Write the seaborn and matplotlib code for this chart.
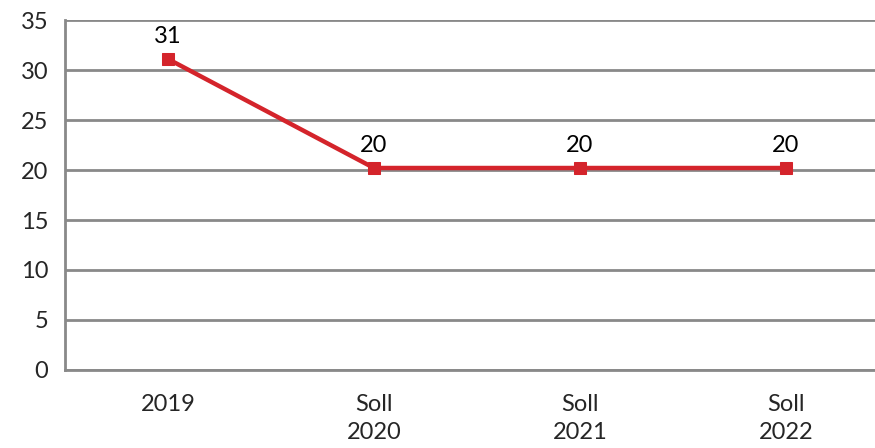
import seaborn as sns
import matplotlib.pyplot as plt
from matplotlib.ticker import MultipleLocator
import pandas as pd

# values
kategorien = ["2019", "Soll\n2020", "Soll\n2021", "Soll\n2022"]
werte = [31.1, 20.2, 20.2, 20.2]

datos = pd.DataFrame({"kategorie": kategorien, "wert": werte})
datos["pos"] = range(len(datos))

sns.set_style("white")
plt.rcParams['font.family'] = ['Lato', 'DejaVu Sans']

fig = plt.figure(figsize=(8.75, 4.48), dpi=100)
ax = fig.add_axes([65 / 875, 1 - 370 / 448, 824 / 875, 350 / 448])

grau = "#898989"
rot = "#D4242B"
fs = 17

sns.lineplot(data=datos, x="pos", y="wert", ax=ax, color=rot, linewidth=3.2,
             marker="s", markersize=9, markeredgecolor=rot, zorder=3)

for x, y in zip(datos["pos"], datos["wert"]):
    ax.annotate(f"{y:.0f}", (x, y), xytext=(0, 9), textcoords="offset points",
                ha="center", va="bottom", fontsize=fs, color="black")

ax.set_xlim(-0.5, len(kategorien) - 0.5)
ax.set_ylim(0, 35)
ax.yaxis.set_major_locator(MultipleLocator(5))
ax.set_xticks(range(len(kategorien)))
ax.set_xticklabels(kategorien, fontsize=fs, va="top", linespacing=1.45)
ax.set_xticks([i - 0.5 for i in range(len(kategorien) + 1)], minor=True)
ax.tick_params(axis="x", which="major", length=0, pad=17)
ax.tick_params(axis="x", which="minor", length=7, width=2, color=grau, direction="out")
ax.tick_params(axis="y", length=7, width=2, color=grau, direction="out", labelsize=fs, pad=5)
ax.yaxis.grid(True, color=grau, linewidth=2)
ax.set_axisbelow(True)
for s in ["top", "right"]:
    ax.spines[s].set_visible(False)
for s in ["left", "bottom"]:
    ax.spines[s].set_color(grau)
    ax.spines[s].set_linewidth(2)
ax.set_xlabel("")
ax.set_ylabel("")

plt.savefig("out.png", dpi=100)
